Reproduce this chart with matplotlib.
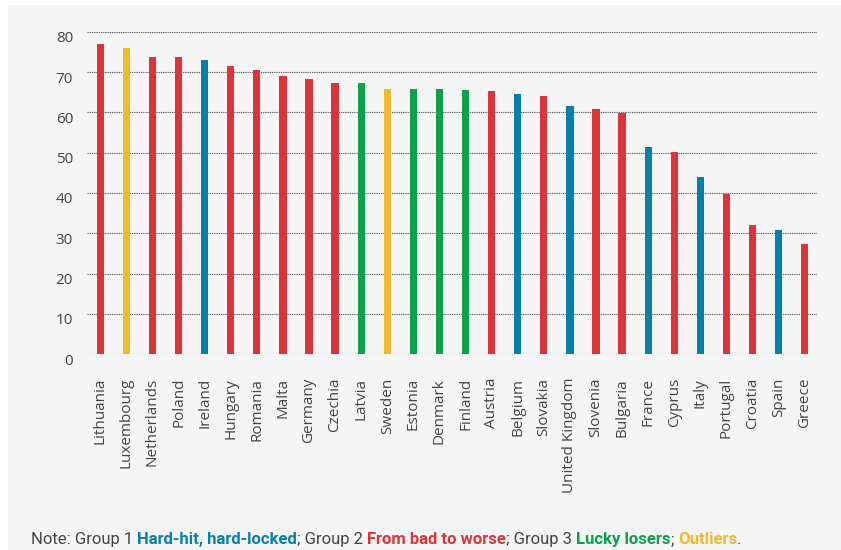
import matplotlib
matplotlib.use("Agg")
import matplotlib.pyplot as plt
import matplotlib.transforms as mtransforms
from matplotlib import font_manager
from matplotlib.patches import Rectangle

countries = ["Lithuania", "Luxembourg", "Netherlands", "Poland", "Ireland", "Hungary",
             "Romania", "Malta", "Germany", "Czechia", "Latvia", "Sweden", "Estonia",
             "Denmark", "Finland", "Austria", "Belgium", "Slovakia", "United Kingdom",
             "Slovenia", "Bulgaria", "France", "Cyprus", "Italy", "Portugal", "Croatia",
             "Spain", "Greece"]
values = [76.9, 75.9, 73.8, 73.8, 73.1, 71.6, 70.4, 69.1, 68.2, 67.4, 67.2, 65.9, 65.9,
          65.9, 65.5, 65.3, 64.6, 64.1, 61.6, 60.9, 59.8, 51.4, 50.2, 43.9, 39.7, 32.1,
          30.8, 27.3]
groups = ["bad", "out", "bad", "bad", "hard", "bad", "bad", "bad", "bad", "bad", "lucky",
          "out", "lucky", "lucky", "lucky", "bad", "hard", "bad", "hard", "bad", "bad",
          "hard", "bad", "hard", "bad", "bad", "hard", "bad"]
yticks = [0, 10, 20, 30, 40, 50, 60, 70, 80]

group_colors = {"hard": "#0480ab", "bad": "#dc343b", "lucky": "#0ca14b", "out": "#f0b92f"}

available = {f.name for f in font_manager.fontManager.ttflist}
tick_font = "Open Sans" if "Open Sans" in available else "DejaVu Sans"
note_font = "Liberation Sans Narrow" if "Liberation Sans Narrow" in available else "Roboto"

bg = "#f5f5f5"
fig = plt.figure(figsize=(8.41, 5.5), dpi=100, facecolor="white")
fig.patches.append(Rectangle((8 / 841, 0), 1, 1 - 5 / 550, transform=fig.transFigure,
                             facecolor=bg, edgecolor="none", zorder=-10))

ax = fig.add_axes([87 / 841, 1 - 354.3 / 550, (817 - 87) / 841, (354.3 - 31.7) / 550])
ax.set_facecolor("none")
x = list(range(len(countries)))
ax.bar(x, values, width=0.28, color=[group_colors[g] for g in groups], zorder=3)
ax.set_xlim(-0.51, len(countries) - 1 + 0.47)
ax.set_ylim(0, 80)
ax.set_yticks(yticks)
ax.set_xticks(x)
ax.set_xticklabels(countries, rotation=90, fontsize=11, family=tick_font, color="#444444")
ax.set_yticklabels([str(v) for v in yticks], fontsize=11, family=tick_font, color="#444444")
for s in ax.spines.values():
    s.set_visible(False)
ax.tick_params(axis="both", length=0)
ax.tick_params(axis="x", pad=17)
ax.tick_params(axis="y", pad=10)
ax.grid(axis="y", color="#666666", linestyle=(0, (1.2, 0.8)), linewidth=0.8, zorder=1)
ax.grid(axis="x", visible=False)
off = mtransforms.ScaledTranslation(0, -5 / 100, fig.dpi_scale_trans)
for lab in ax.get_yticklabels():
    lab.set_transform(lab.get_transform() + off)

# Note line with coloured parts
parts = [("Note: Group 1 ", "#444444", "normal"),
         ("Hard-hit, hard-locked", group_colors["hard"], "bold"),
         ("; Group 2 ", "#444444", "normal"),
         ("From bad to worse", group_colors["bad"], "bold"),
         ("; Group 3 ", "#444444", "normal"),
         ("Lucky losers", group_colors["lucky"], "bold"),
         ("; ", "#444444", "normal"),
         ("Outliers", group_colors["out"], "bold"),
         (".", "#444444", "normal")]
fig.canvas.draw()
renderer = fig.canvas.get_renderer()
xpos = 31
ypos = 550 - 544
for txt, col, wt in parts:
    t = fig.text(xpos / 841, ypos / 550, txt, color=col, fontweight=wt, fontsize=12,
                 family=note_font, ha="left", va="baseline")
    bb = t.get_window_extent(renderer=renderer)
    xpos += bb.width

fig.savefig("out.png", dpi=100, facecolor="white")
